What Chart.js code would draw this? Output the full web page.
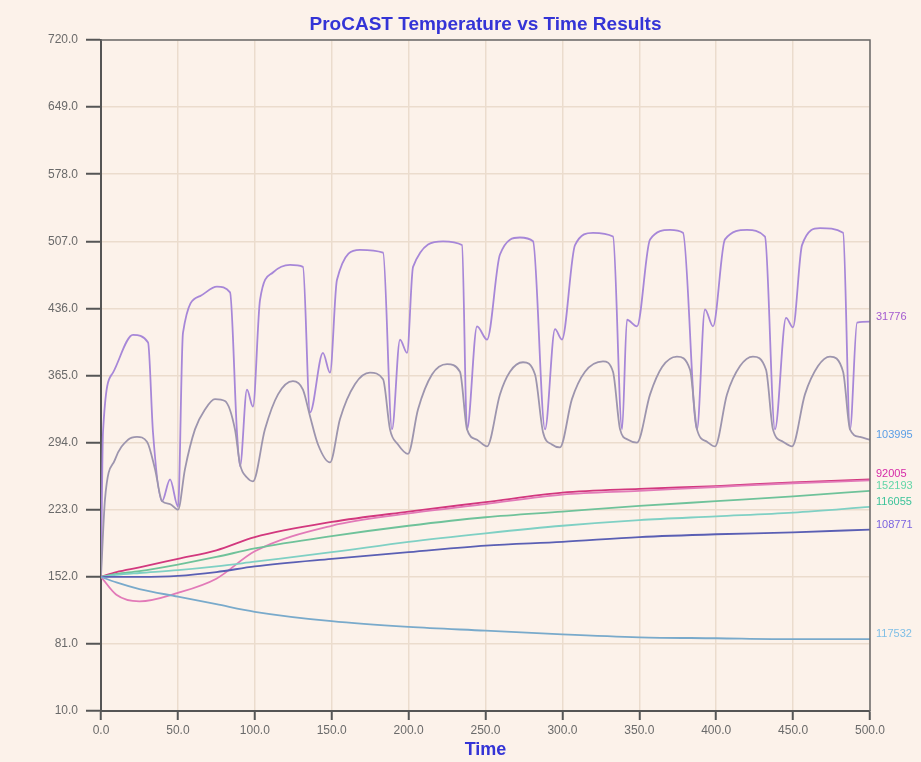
<!DOCTYPE html>
<html>
<head>
<meta charset="utf-8">
<title>ProCAST Temperature vs Time Results</title>
<script src="https://cdn.jsdelivr.net/npm/chart.js@4.4.1/dist/chart.umd.min.js"></script>
<style>
  html, body { margin: 0; padding: 0; background: #fcf2ea; }
  #wrap { width: 921px; height: 762px; }
</style>
</head>
<body>
<div id="wrap"><canvas id="tempChart" width="921" height="762"></canvas></div>
<script>
/* ---- Datos ---- */
const chartTitle = 'ProCAST Temperature vs Time Results';
const xTicks = [0, 50, 100, 150, 200, 250, 300, 350, 400, 450, 500];
const yTicks = [10, 81, 152, 223, 294, 365, 436, 507, 578, 649, 720];

// nodo 31776 (curva cíclica superior)
const upperTime = [0, 1.3, 7.8, 20.8, 30.6, 33.8, 39.7, 44.9, 50.1, 53.3, 64.4, 75.4, 83.9, 88.4, 90.4,
  94.9, 98.8, 103.4, 111.8, 122.9, 131.3, 135.9, 144.3, 148.9, 153.4, 168.4, 183.4, 189.2, 194.4, 199.0,
  202.9, 222.4, 234.7, 238.0, 244.5, 251.0, 259.4, 272.4, 280.9, 288.7, 295.2, 299.7, 308.2, 319.9, 332.9,
  338.8, 342.0, 348.5, 357.0, 370.0, 378.4, 387.5, 392.7, 397.9, 405.7, 420.0, 431.7, 438.2, 445.4, 449.9,
  455.8, 467.5, 482.5, 487.0, 491.6, 500];
const upperTemp = [153, 305, 368, 408, 400, 305, 232, 255, 226, 410, 449, 459, 453, 305, 269,
  350, 332, 445, 474, 482, 480, 326, 389, 368, 466, 498, 495, 308, 403, 389,
  480, 507, 503, 308, 417, 403, 493, 511, 507, 308, 414, 403, 503, 516, 512,
  308, 424, 417, 509, 519, 516, 308, 435, 417, 509, 519, 512, 308, 426, 416,
  503, 521, 516, 308, 421, 422];

// nodo 103995 (curva cíclica inferior)
const lowerTime = [0, 2.6, 9.1, 17.6, 23.4, 29.9, 35.1, 39.7, 44.9, 50.1, 54.6, 61.1, 67.6, 74.1, 80.6,
  87.1, 90.4, 94.9, 98.8, 106.6, 115.1, 124.8, 131.3, 135.9, 141.1, 148.9, 155.4, 165.2, 174.9, 183.4,
  187.9, 193.1, 199.6, 206.1, 215.2, 225.0, 233.4, 238.0, 244.5, 251.0, 259.4, 265.9, 274.4, 282.2, 287.4,
  293.2, 298.4, 306.2, 314.7, 326.4, 332.9, 337.5, 342.7, 348.5, 357.0, 364.8, 374.5, 383.0, 387.5, 394.0,
  399.2, 407.0, 415.5, 423.9, 432.4, 436.9, 443.4, 449.3, 457.7, 466.2, 474.0, 482.5, 487.0, 493.5, 500];
const lowerTemp = [153, 234, 276, 297, 300, 295, 266, 232, 229, 223, 266, 308, 329, 340, 338,
  308, 271, 257, 253, 308, 345, 359, 350, 322, 292, 273, 319, 356, 368, 361,
  308, 292, 282, 329, 366, 377, 369, 308, 297, 290, 345, 369, 379, 366, 305,
  292, 289, 340, 369, 380, 369, 308, 297, 294, 345, 374, 385, 371, 308, 295,
  290, 345, 375, 385, 371, 308, 295, 290, 345, 375, 385, 369, 308, 300, 297];

// curvas suaves
const smoothTime = [0, 10, 25, 50, 75, 100, 150, 200, 250, 300, 350, 400, 450, 500];
const temp92005  = [152, 157, 162, 171, 180, 194, 210, 221, 231, 241, 245, 248, 252, 255];
const tempDip    = [152, 133, 126, 135, 150, 179, 206, 219, 229, 239, 243, 247, 251, 254];
const temp152193 = [152, 155, 158, 165, 173, 182, 195, 206, 215, 221, 227, 232, 237, 243];
const temp116055 = [152, 154, 156, 159, 163, 168, 178, 189, 198, 206, 212, 216, 220, 226];
const temp108771 = [152, 152, 152, 153, 157, 163, 171, 178, 185, 189, 194, 197, 199, 202];
const temp117532 = [152, 146, 139, 131, 123, 115, 105, 99, 95, 91, 88, 87, 86, 86];

const toPoints = (xs, ys) => xs.map((x, i) => ({ x: x, y: ys[i] }));

function line(label, xs, ys, color, labelColor) {
  return {
    label: label || '',
    endLabel: label,
    labelColor: labelColor || color,
    data: toPoints(xs, ys),
    borderColor: color,
    borderWidth: 1.8,
    pointRadius: 0,
    fill: false,
    cubicInterpolationMode: 'monotone',
  };
}

const FONT = '"Liberation Sans", Arial, sans-serif';

/* ---- Plugins ---- */
const background = {
  id: 'background',
  beforeDraw(chart) {
    const { ctx, width, height } = chart;
    ctx.save();
    ctx.fillStyle = '#fcf2ea';
    ctx.fillRect(0, 0, width, height);
    ctx.restore();
  }
};

// título centrado sobre el área del gráfico
const plotTitle = {
  id: 'plotTitle',
  afterDraw(chart) {
    const { ctx, chartArea: a } = chart;
    ctx.save();
    ctx.font = 'bold 19px ' + FONT;
    ctx.fillStyle = '#3434d6';
    ctx.textAlign = 'center';
    ctx.textBaseline = 'middle';
    ctx.fillText(chartTitle, (a.left + a.right) / 2, 25);
    ctx.restore();
  }
};

const frame = {
  id: 'frame',
  afterDraw(chart) {
    const { ctx, chartArea: a } = chart;
    ctx.save();
    ctx.strokeStyle = '#6a6a6a';
    ctx.lineWidth = 1.5;
    ctx.beginPath();
    ctx.moveTo(a.left, a.top);
    ctx.lineTo(a.right, a.top);
    ctx.lineTo(a.right, a.bottom);
    ctx.stroke();
    ctx.restore();
  }
};

const endLabels = {
  id: 'endLabels',
  afterDatasetsDraw(chart) {
    const { ctx, chartArea } = chart;
    ctx.save();
    ctx.font = '11px ' + FONT;
    ctx.textBaseline = 'middle';
    chart.data.datasets.forEach((ds, i) => {
      if (!ds.endLabel) return;
      const pts = chart.getDatasetMeta(i).data;
      const last = pts[pts.length - 1];
      ctx.fillStyle = ds.labelColor;
      ctx.fillText(ds.endLabel, chartArea.right + 6, last.y - 5);
    });
    ctx.restore();
  }
};

/* ---- Gráfico ---- */
const tickFont = { family: FONT, size: 12 };

new Chart(document.getElementById('tempChart'), {
  type: 'line',
  data: {
    datasets: [
      line('117532', smoothTime, temp117532, '#79aacb', '#7fbfe6'),
      line('108771', smoothTime, temp108771, '#5a5fb4', '#7a63e0'),
      line('116055', smoothTime, temp116055, '#7fd0c4', '#3cc39a'),
      line('152193', smoothTime, temp152193, '#6fc29a', '#63d6a8'),
      line(null, smoothTime, tempDip, '#e27ab8'),
      line('92005', smoothTime, temp92005, '#d2387e', '#d62aa8'),
      line('103995', lowerTime, lowerTemp, '#9d95ae', '#5a9ee6'),
      line('31776', upperTime, upperTemp, '#a787d8', '#a35ad0'),
    ],
  },
  options: {
    responsive: false,
    animation: false,
    layout: { padding: { left: 0, right: 51, top: 40, bottom: 0 } },
    plugins: {
      legend: { display: false },
      tooltip: { enabled: false },
      title: { display: false },
    },
    scales: {
      x: {
        type: 'linear',
        min: xTicks[0],
        max: xTicks[xTicks.length - 1],
        afterBuildTicks: axis => { axis.ticks = xTicks.map(v => ({ value: v })); },
        afterFit: axis => { axis.height = 51; },
        ticks: {
          color: '#6a6a6a',
          font: tickFont,
          padding: 3,
          maxRotation: 0,
          callback: v => Number(v).toFixed(1),
        },
        grid: { color: '#ebdccd', lineWidth: 1.5, tickLength: 9, tickColor: '#555', tickWidth: 2 },
        border: { display: true, color: '#555', width: 2 },
        title: {
          display: true, text: 'Time', color: '#3434d6',
          font: { family: FONT, size: 18, weight: 'bold' },
          padding: { top: 0, bottom: 1 },
        },
      },
      y: {
        type: 'linear',
        min: yTicks[0],
        max: yTicks[yTicks.length - 1],
        afterBuildTicks: axis => { axis.ticks = yTicks.map(v => ({ value: v })); },
        afterFit: axis => { axis.width = 101; },
        ticks: {
          color: '#6a6a6a',
          font: tickFont,
          padding: 8,
          callback: v => Number(v).toFixed(1),
        },
        grid: { color: '#ebdccd', lineWidth: 1.5, tickLength: 15, tickColor: '#555', tickWidth: 2 },
        border: { display: true, color: '#555', width: 2 },
      },
    },
  },
  plugins: [background, plotTitle, frame, endLabels],
});
</script>
</body>
</html>
